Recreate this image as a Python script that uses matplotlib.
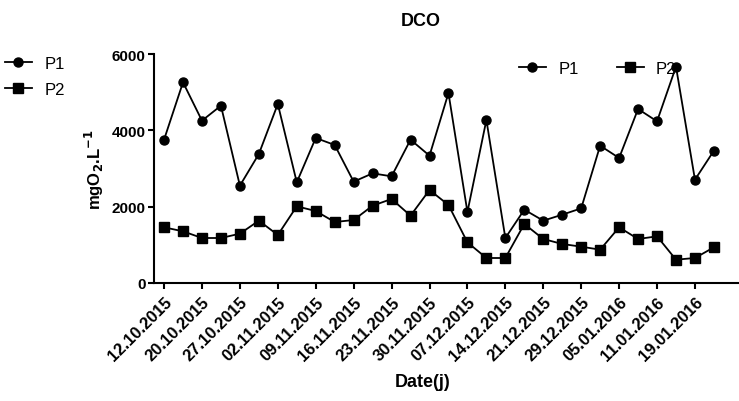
import matplotlib.pyplot as plt
import numpy as np

plt.rcParams['font.family'] = ['Liberation Sans', 'DejaVu Sans']

# tick labels (one every second sample)
dates = ['12.10.2015', '20.10.2015', '27.10.2015', '02.11.2015', '09.11.2015',
         '16.11.2015', '23.11.2015', '30.11.2015', '07.12.2015', '14.12.2015',
         '21.12.2015', '29.12.2015', '05.01.2016', '11.01.2016', '19.01.2016']

# DCO values (mgO2/L)
p1 = [3755, 5258, 4253, 4646, 2550, 3380, 4690, 2638, 3800, 3616,
      2655, 2873, 2795, 3755, 3336, 4978, 1860, 4271, 1179, 1921,
      1633, 1790, 1956, 3598, 3275, 4559, 4236, 5668, 2707, 3467]
p2 = [1459, 1354, 1179, 1179, 1292, 1633, 1258, 2009, 1886, 1598,
      1650, 2026, 2201, 1764, 2437, 2044, 1065, 655, 655, 1546,
      1153, 1022, 952, 873, 1459, 1153, 1223, 611, 655, 935]

x = np.arange(len(p1))

fig = plt.figure(figsize=(7.39, 4.02), dpi=100)
ax = fig.add_axes([154 / 739, 118 / 402, 584 / 739, 229 / 402])

l1, = ax.plot(x, p1, color='black', lw=1.3, marker='o', ms=6.5, label='P1')
l2, = ax.plot(x, p2, color='black', lw=1.3, marker='s', ms=6.5, label='P2')

ax.set_xlim(-0.53, 30.27)
ax.set_ylim(0, 6000)
ax.set_yticks([0, 2000, 4000, 6000])
ax.set_xticks(x[::2])
ax.set_xticklabels(dates, rotation=45, ha='right', rotation_mode='anchor')

for s in ['top', 'right']:
    ax.spines[s].set_visible(False)
for s in ['left', 'bottom']:
    ax.spines[s].set_linewidth(1.5)
ax.tick_params(width=1.5, length=4, pad=2)
ax.tick_params(axis='y', labelsize=11)
ax.tick_params(axis='x', labelsize=12, pad=4)
for lab in ax.get_xticklabels() + ax.get_yticklabels():
    lab.set_fontweight('bold')

ax.set_ylabel(r'mgO$_\mathbf{2}$.L$^\mathbf{-1}$', fontsize=12, fontweight='bold', labelpad=4)
fig.text(423 / 739, 1 - 383 / 402, 'Date(j)', fontsize=13, fontweight='bold',
         ha='center', va='center')
fig.text(421 / 739, 1 - 21 / 402, 'DCO', fontsize=13, fontweight='bold',
         ha='center', va='center')

# legend outside, top left
fig.legend(handles=[l1, l2], loc='upper left', bbox_to_anchor=(5 / 739, 1 - 57 / 402),
           frameon=False, fontsize=12, borderpad=0, borderaxespad=0,
           handlelength=1.6, handletextpad=0.75, labelspacing=0.65)
# legend inside, top right
fig.legend(handles=[l1, l2], loc='upper left', bbox_to_anchor=(519 / 739, 1 - 62 / 402),
           frameon=False, fontsize=12, borderpad=0, borderaxespad=0, ncol=2,
           handlelength=1.6, handletextpad=0.75, columnspacing=2.3)

plt.savefig('out.png', dpi=100)
